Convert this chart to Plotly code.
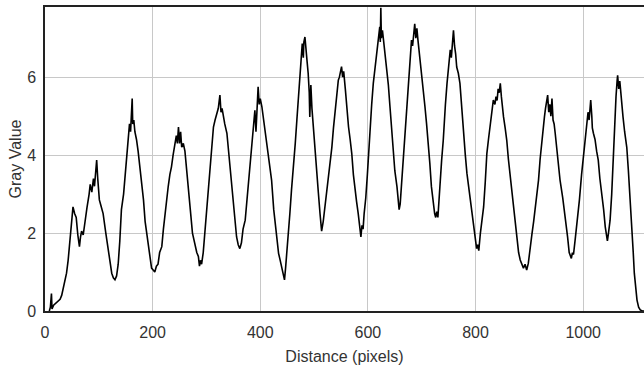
import plotly.graph_objects as go

# Profile (distance in pixels, gray value)
distance = [8, 10, 12, 13, 16, 20, 24, 28, 31, 35, 40, 43, 46, 49, 52, 55, 58, 61, 64, 66, 68, 71, 74, 78, 82, 84, 87, 90, 92, 94, 96, 98, 101, 104, 108, 113, 118, 121, 124, 127, 130, 133, 136, 139, 142, 146, 149, 152, 155, 157, 159, 160, 162, 163, 165, 167, 170, 173, 178, 183, 186, 189, 192, 195, 198, 201, 204, 207, 210, 213, 217, 220, 223, 226, 229, 232, 235, 238, 241, 244, 246, 248, 250, 252, 254, 257, 260, 263, 266, 270, 274, 278, 282, 285, 287, 289, 291, 294, 297, 300, 304, 307, 310, 313, 316, 319, 322, 325, 327, 329, 331, 334, 338, 341, 344, 347, 350, 353, 356, 359, 362, 365, 368, 372, 375, 378, 381, 384, 387, 390, 392, 394, 396, 398, 400, 403, 407, 412, 416, 421, 425, 428, 431, 434, 437, 440, 443, 445, 447, 449, 452, 455, 458, 462, 465, 468, 471, 474, 476, 478, 480, 481, 483, 485, 487, 489, 491, 492, 494, 496, 499, 502, 505, 508, 511, 514, 517, 520, 523, 527, 530, 533, 536, 539, 542, 545, 547, 549, 551, 553, 555, 558, 561, 564, 567, 570, 573, 576, 579, 582, 585, 587, 589, 591, 593, 596, 599, 602, 604, 607, 610, 613, 616, 618, 620, 622, 623, 624, 625, 627, 629, 632, 635, 638, 641, 644, 647, 650, 654, 656, 658, 660, 663, 666, 669, 672, 675, 678, 681, 683, 685, 687, 689, 691, 693, 695, 697, 700, 703, 706, 709, 712, 715, 718, 721, 724, 726, 728, 730, 732, 735, 737, 740, 742, 744, 747, 749, 751, 753, 755, 757, 759, 761, 763, 765, 768, 771, 774, 778, 781, 784, 787, 790, 793, 796, 799, 802, 804, 806, 809, 812, 815, 818, 821, 824, 827, 830, 833, 836, 838, 840, 842, 844, 846, 848, 850, 852, 855, 858, 861, 864, 867, 871, 874, 877, 880, 883, 886, 889, 892, 895, 898, 901, 905, 908, 911, 914, 917, 920, 923, 926, 928, 930, 932, 934, 936, 938, 940, 942, 944, 946, 948, 952, 957, 962, 967, 971, 974, 976, 978, 980, 982, 985, 989, 993, 997, 1001, 1004, 1007, 1009, 1011, 1013, 1014, 1016, 1017, 1019, 1022, 1025, 1028, 1031, 1035, 1038, 1041, 1043, 1045, 1047, 1050, 1053, 1055, 1057, 1059, 1061, 1063, 1064, 1066, 1068, 1069, 1071, 1074, 1077, 1081, 1084, 1086, 1088, 1091, 1093, 1095, 1097, 1100, 1103, 1106, 1110, 1113]

gray_value = [0.0, 0.1, 0.45, 0.05, 0.15, 0.2, 0.25, 0.3, 0.4, 0.65, 0.97, 1.3, 1.7, 2.1, 2.67, 2.5, 2.4, 1.95, 1.65, 1.9, 2.05, 1.95, 2.3, 2.65, 3.0, 3.25, 3.05, 3.4, 3.2, 3.6, 3.87, 3.4, 2.85, 2.7, 2.5, 2.0, 1.5, 1.3, 0.97, 0.85, 0.8, 0.9, 1.2, 1.8, 2.6, 3.0, 3.5, 3.9, 4.4, 4.8, 4.6, 5.0, 5.45, 4.8, 4.9, 4.6, 4.4, 4.1, 3.5, 2.85, 2.3, 2.0, 1.6, 1.3, 1.1, 1.05, 1.0, 1.15, 1.2, 1.5, 1.65, 2.1, 2.5, 2.9, 3.2, 3.5, 3.7, 4.0, 4.3, 4.5, 4.3, 4.72, 4.3, 4.6, 4.2, 4.3, 4.1, 3.6, 3.2, 2.6, 2.0, 1.7, 1.5, 1.4, 1.15, 1.3, 1.2, 1.5, 2.0, 2.67, 3.3, 3.87, 4.3, 4.72, 4.9, 5.07, 5.2, 5.54, 5.1, 5.2, 4.98, 4.8, 4.56, 4.1, 3.7, 3.2, 2.85, 2.3, 1.9, 1.7, 1.6, 1.75, 2.1, 2.33, 2.8, 3.19, 3.7, 4.2, 4.7, 5.15, 4.6, 5.4, 5.75, 5.3, 5.45, 5.24, 4.8, 4.38, 3.9, 3.36, 2.6, 2.16, 1.8, 1.48, 1.3, 1.14, 0.95, 0.8, 1.1, 1.4, 1.9, 2.5, 3.1, 3.7, 4.3, 4.9, 5.5, 6.1, 6.6, 6.86, 6.5, 6.9, 7.03, 6.6, 6.4, 6.1, 5.6, 4.98, 5.8, 5.2, 4.6, 4.04, 3.5, 3.02, 2.5, 2.05, 2.3, 2.67, 3.0, 3.36, 3.8, 4.2, 4.7, 5.15, 5.5, 5.92, 6.0, 6.2, 6.27, 6.0, 6.15, 5.7, 5.1, 4.72, 4.4, 4.04, 3.5, 3.1, 2.8, 2.5, 2.1, 1.9, 2.2, 2.1, 2.5, 2.9, 3.5, 4.3, 4.72, 5.3, 5.84, 6.2, 6.6, 6.7, 7.0, 7.29, 6.9, 7.78, 7.0, 7.2, 6.95, 6.6, 6.26, 5.8, 5.24, 4.6, 4.04, 3.6, 3.19, 2.9, 2.6, 2.75, 3.36, 3.8, 4.38, 5.1, 5.84, 6.4, 6.95, 6.8, 7.2, 7.37, 7.0, 7.25, 6.95, 6.7, 6.5, 6.1, 5.7, 5.24, 4.8, 4.38, 3.8, 3.19, 2.8, 2.5, 2.4, 2.55, 2.4, 2.9, 3.4, 3.87, 4.38, 4.9, 5.3, 5.84, 6.2, 6.44, 6.7, 6.5, 6.9, 7.2, 6.8, 6.6, 6.26, 6.1, 5.84, 5.2, 4.56, 4.0, 3.53, 3.2, 2.85, 2.5, 2.16, 1.9, 1.6, 1.7, 1.55, 2.0, 2.3, 2.67, 3.3, 4.04, 4.4, 4.72, 5.0, 5.41, 5.3, 5.5, 5.4, 5.7, 5.6, 5.84, 5.5, 5.2, 4.98, 4.7, 4.38, 3.9, 3.53, 3.1, 2.67, 2.2, 1.82, 1.5, 1.31, 1.2, 1.1, 1.2, 1.05, 1.22, 1.5, 2.0, 2.3, 2.67, 3.0, 3.36, 3.9, 4.38, 4.8, 4.98, 5.2, 5.4, 5.54, 5.1, 5.3, 5.0, 5.45, 4.9, 4.8, 4.56, 4.0, 3.36, 2.9, 2.42, 1.9, 1.5, 1.4, 1.35, 1.5, 1.45, 1.82, 2.3, 2.85, 3.5, 4.04, 4.5, 4.98, 5.1, 4.9, 5.3, 5.41, 5.0, 4.7, 4.56, 4.4, 4.1, 3.87, 3.4, 3.02, 2.6, 2.16, 1.95, 1.8, 2.0, 2.33, 3.0, 3.7, 4.4, 5.15, 5.5, 5.9, 6.05, 5.7, 5.9, 5.75, 5.4, 4.98, 4.6, 4.2, 3.6, 3.19, 2.7, 2.16, 1.5, 0.97, 0.6, 0.28, 0.1, 0.03, 0.0, 0.0]

x_ticks = [0, 200, 400, 600, 800, 1000]
y_ticks = [0, 2, 4, 6]

FONT = "Liberation Sans, Arial, sans-serif"

fig = go.Figure()
fig.add_trace(go.Scatter(
    x=distance, y=gray_value, mode="lines",
    line=dict(color="black", width=1.6),
    hoverinfo="skip", showlegend=False,
))

fig.update_layout(
    width=644, height=367,
    margin=dict(l=45, r=0, t=7, b=56),
    paper_bgcolor="white", plot_bgcolor="white",
    font=dict(family=FONT, size=16, color="#333333"),
    xaxis=dict(
        range=[0, 1113], tickvals=x_ticks, ticktext=[str(v) for v in x_ticks],
        showgrid=True, gridcolor="#c8c8c8", gridwidth=1,
        showline=True, linecolor="#222222", linewidth=1.5, mirror=True,
        ticks="outside", ticklen=6, tickcolor="rgba(0,0,0,0)",
        zeroline=False,
        title=dict(text="Distance (pixels)", standoff=11, font=dict(size=16)),
    ),
    yaxis=dict(
        range=[0, 7.8], tickvals=y_ticks, ticktext=[str(v) for v in y_ticks],
        showgrid=True, gridcolor="#c8c8c8", gridwidth=1,
        showline=True, linecolor="#222222", linewidth=1.5, mirror=False,
        ticks="outside", ticklen=4, tickcolor="rgba(0,0,0,0)",
        zeroline=False,
        title=dict(text="Gray Value", standoff=2, font=dict(size=16)),
    ),
)

fig.write_html("out.html")
